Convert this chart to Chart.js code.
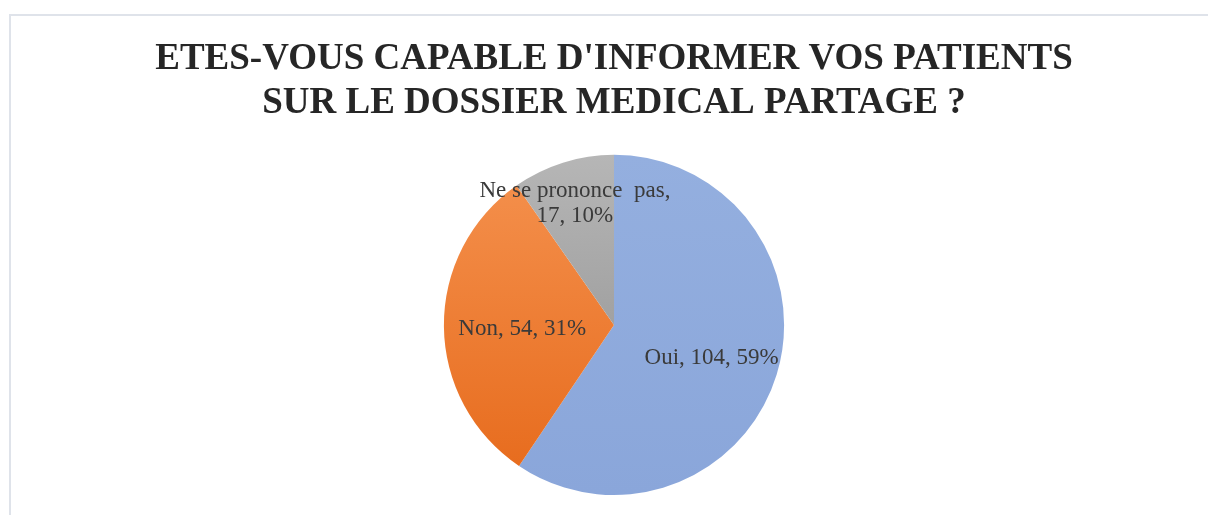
<!DOCTYPE html>
<html>
<head>
<meta charset="utf-8">
<script src="https://cdn.jsdelivr.net/npm/chart.js@4"></script>
<style>
  html, body { margin: 0; padding: 0; background: #fff; }
  body { width: 1208px; height: 515px; position: relative; overflow: hidden; }
  .frame { position: absolute; left: 9px; top: 14px; width: 1220px; height: 520px; border: 2px solid #dfe3ea; box-sizing: border-box; }
  #pieChart { position: absolute; left: 0; top: 0; }
</style>
</head>
<body>
<div class="frame"></div>
<canvas id="pieChart" width="1208" height="515"></canvas>
<script>
const categories = ['Oui', 'Non', 'Ne se prononce  pas'];
const counts = [104, 54, 17];
const percents = [59, 31, 10];
const titleLines = ["ETES-VOUS CAPABLE D'INFORMER VOS PATIENTS", 'SUR LE DOSSIER MEDICAL PARTAGE ?'];

// label text lines and how far out along the radius each one sits
const labelLines = [
  ['Oui, 104, 59%'],
  ['Non, 54, 31%'],
  ['Ne se prononce  pas,', '17, 10%']
];
const labelRadius = [0.6, 0.54, 0.765];

// vertical gradient stops per slice (top, bottom)
const sliceColors = [
  ['#94afdf', '#8aa6da'],
  ['#f5924f', '#e6691a'],
  ['#b6b6b6', '#8c8c8c']
];

function sliceFill(context) {
  const chart = context.chart;
  const area = chart.chartArea;
  if (!area) return sliceColors[context.dataIndex][0];
  const cols = sliceColors[context.dataIndex];
  const g = chart.ctx.createLinearGradient(0, area.top, 0, area.bottom);
  g.addColorStop(0, cols[0]);
  g.addColorStop(1, cols[1]);
  return g;
}

const pieLabels = {
  id: 'pieLabels',
  afterDatasetsDraw(chart) {
    const ctx = chart.ctx;
    const meta = chart.getDatasetMeta(0);
    ctx.save();
    ctx.font = '23px "Liberation Serif", "Times New Roman", serif';
    ctx.fillStyle = '#3a3a3a';
    ctx.textAlign = 'center';
    ctx.textBaseline = 'middle';
    meta.data.forEach((arc, i) => {
      const p = arc.getProps(['x', 'y', 'startAngle', 'endAngle', 'outerRadius']);
      const mid = (p.startAngle + p.endAngle) / 2;
      const r = p.outerRadius * labelRadius[i];
      const cx = p.x + Math.cos(mid) * r;
      const cy = p.y + Math.sin(mid) * r + 3;
      const lines = labelLines[i];
      const lh = 25;
      lines.forEach((t, j) => {
        ctx.fillText(t, cx, cy + (j - (lines.length - 1) / 2) * lh);
      });
    });
    ctx.restore();
  }
};

const ctxPie = document.getElementById('pieChart').getContext('2d');
new Chart(ctxPie, {
  type: 'pie',
  data: {
    labels: categories,
    datasets: [{
      data: counts,
      backgroundColor: sliceFill,
      borderWidth: 0
    }]
  },
  options: {
    responsive: false,
    animation: false,
    layout: { padding: { left: 20, right: 0, top: 0, bottom: 20 } },
    plugins: {
      legend: { display: false },
      tooltip: { enabled: false },
      title: {
        display: true,
        text: titleLines,
        color: '#262626',
        font: { family: '"Liberation Serif", "Times New Roman", serif', size: 37, weight: 'bold', lineHeight: 1.2 },
        padding: { top: 37, bottom: 29 }
      }
    }
  },
  plugins: [pieLabels]
});
</script>
</body>
</html>
